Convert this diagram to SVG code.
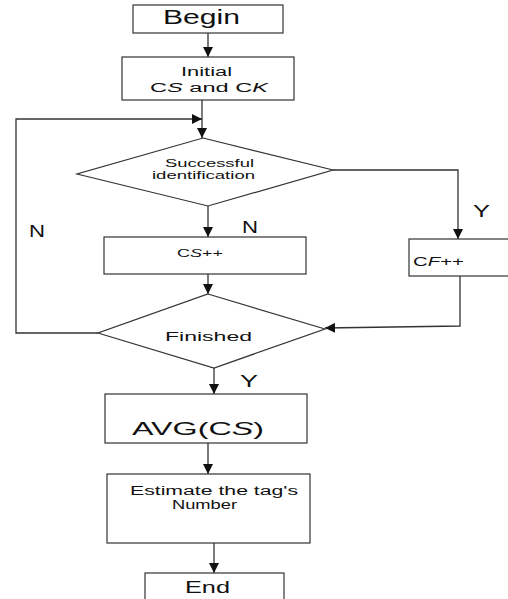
<svg xmlns="http://www.w3.org/2000/svg" width="508" height="599" viewBox="0 0 508 599">
  <defs>
    <marker id="arrow" markerWidth="10" markerHeight="10" refX="10" refY="5" orient="auto" markerUnits="userSpaceOnUse">
      <path d="M0,0 L10,5 L0,10 Z" fill="#111"/>
    </marker>
    <style>
      .shape { fill: #fff; stroke: #333; stroke-width: 1.2; }
      .line { fill: none; stroke: #333; stroke-width: 1.3; }
      .txt { font-family: "Liberation Sans", Arial, sans-serif; fill: #111; text-anchor: middle; }
      .lbl { font-family: "Liberation Sans", Arial, sans-serif; fill: #111; font-size: 16.5px; text-anchor: start; }
      .start { text-anchor: start; }
    </style>
  </defs>
  <rect width="508" height="599" fill="#fff"/>

  <!-- connectors -->
  <g id="connectors">
    <line class="line" x1="208" y1="33" x2="208" y2="57" marker-end="url(#arrow)"/>
    <line class="line" x1="202" y1="100" x2="202" y2="138" marker-end="url(#arrow)"/>
    <line class="line" x1="208" y1="206" x2="208" y2="237" marker-end="url(#arrow)"/>
    <polyline class="line" points="333,170 458,170 458,239" marker-end="url(#arrow)"/>
    <line class="line" x1="208" y1="274" x2="208" y2="294" marker-end="url(#arrow)"/>
    <polyline class="line" points="460,276 460,326 325,328" marker-end="url(#arrow)"/>
    <polyline class="line" points="98,333 16,333 16,119 202,119" marker-end="url(#arrow)"/>
    <line class="line" x1="214" y1="368" x2="214" y2="394" marker-end="url(#arrow)"/>
    <line class="line" x1="208" y1="443" x2="208" y2="474" marker-end="url(#arrow)"/>
    <line class="line" x1="214" y1="543" x2="214" y2="573" marker-end="url(#arrow)"/>
    <text class="lbl" x="242" y="233" textLength="16" lengthAdjust="spacingAndGlyphs">N</text>
    <text class="lbl" x="473" y="217" textLength="17" lengthAdjust="spacingAndGlyphs">Y</text>
    <text class="lbl" x="29" y="237" textLength="16" lengthAdjust="spacingAndGlyphs">N</text>
    <text class="lbl" x="240" y="387" textLength="18" lengthAdjust="spacingAndGlyphs">Y</text>
  </g>

  <g id="begin">
    <rect class="shape" x="133" y="5" width="150" height="28"/>
    <text class="txt" x="201.5" y="23.5" font-size="19.5" textLength="77" lengthAdjust="spacingAndGlyphs">Begin</text>
  </g>

  <g id="initial">
    <rect class="shape" x="122" y="57" width="172" height="43"/>
    <text class="txt" x="206.5" y="76" font-size="12.5" textLength="51" lengthAdjust="spacingAndGlyphs">Initial</text>
    <text class="txt" x="209" y="92" font-size="12.5" textLength="118" lengthAdjust="spacingAndGlyphs">C<tspan font-style="italic">S</tspan> and C<tspan font-style="italic">K</tspan></text>
  </g>

  <g id="successful">
    <polygon class="shape" points="203,138 333,170 208,206 77,174"/>
    <text class="txt" x="209.5" y="167" font-size="11.5" textLength="89" lengthAdjust="spacingAndGlyphs">Successful</text>
    <text class="txt" x="203.5" y="179" font-size="11.5" textLength="103" lengthAdjust="spacingAndGlyphs">identification</text>
  </g>

  <g id="cs-inc">
    <rect class="shape" x="104" y="237" width="202" height="37"/>
    <text class="txt" x="200" y="257" font-size="10" textLength="46" lengthAdjust="spacingAndGlyphs">C<tspan font-style="italic">S</tspan>++</text>
  </g>

  <g id="cf-inc">
    <rect class="shape" x="409" y="239" width="102" height="37"/>
    <text class="txt start" x="413" y="266" font-size="12" textLength="51" lengthAdjust="spacingAndGlyphs">C<tspan font-style="italic">F</tspan>++</text>
  </g>

  <g id="finished">
    <polygon class="shape" points="208,294 325,329 214,368 98,333"/>
    <text class="txt" x="208.5" y="341" font-size="12.5" textLength="87" lengthAdjust="spacingAndGlyphs">Finished</text>
  </g>

  <g id="avg">
    <rect class="shape" x="105" y="394" width="202" height="49"/>
    <text class="txt" x="198" y="435" font-size="18" textLength="132" lengthAdjust="spacingAndGlyphs">AVG(C<tspan font-style="italic">S</tspan>)</text>
  </g>

  <g id="estimate">
    <rect class="shape" x="107" y="474" width="203" height="69"/>
    <text class="txt" x="214" y="495" font-size="12.5" textLength="168" lengthAdjust="spacingAndGlyphs">Estimate the tag's</text>
    <text class="txt" x="204.5" y="509" font-size="12.5" textLength="65" lengthAdjust="spacingAndGlyphs">Number</text>
  </g>

  <g id="end">
    <rect class="shape" x="145" y="573" width="139" height="30"/>
    <text class="txt" x="207.5" y="593" font-size="16" textLength="45" lengthAdjust="spacingAndGlyphs">End</text>
  </g>
</svg>
